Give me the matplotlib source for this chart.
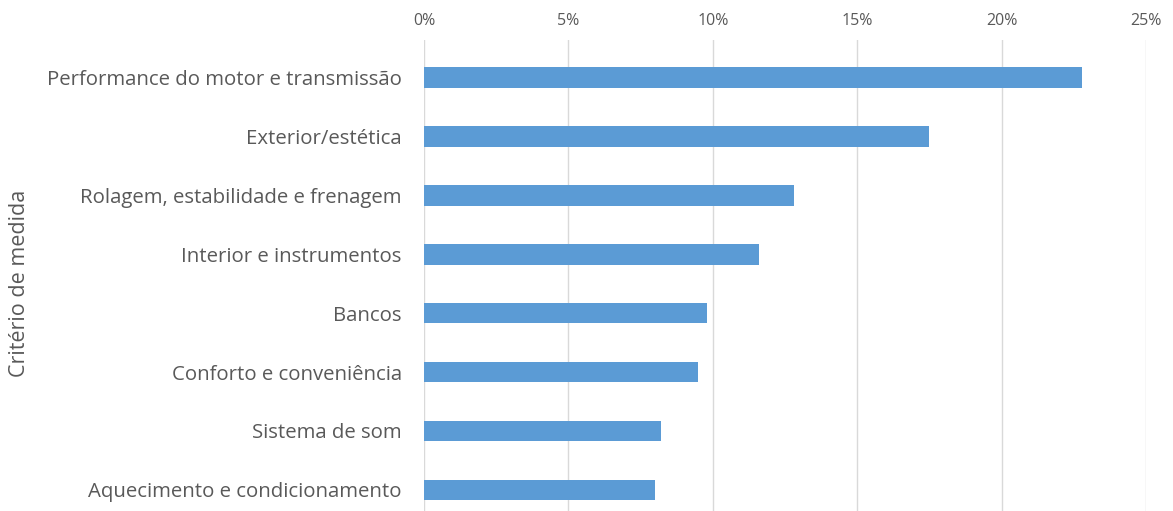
import matplotlib.pyplot as plt
from matplotlib.ticker import PercentFormatter

criterios = ["Performance do motor e transmissão", "Exterior/estética",
             "Rolagem, estabilidade e frenagem", "Interior e instrumentos",
             "Bancos", "Conforto e conveniência", "Sistema de som",
             "Aquecimento e condicionamento"]
valores = [22.8, 17.5, 12.8, 11.6, 9.8, 9.5, 8.2, 8.0]
x_ticks = [0, 5, 10, 15, 20, 25]

plt.rcParams['font.family'] = ['Open Sans', 'DejaVu Sans']
text_color = '#595959'

fig = plt.figure(figsize=(11.73, 5.11), dpi=100)
ax = fig.add_axes([424 / 1173, 0, 722 / 1173, 1 - 40 / 511])

pos = list(range(len(criterios)))
ax.barh(pos, valores, height=0.35, color='#5B9BD5', zorder=3)
ax.set_ylim(len(criterios) - 0.64, -0.64)
ax.set_xlim(0, 25)
ax.set_xticks(x_ticks)
ax.xaxis.set_major_formatter(PercentFormatter(decimals=0))
ax.xaxis.tick_top()
ax.tick_params(axis='x', length=0, pad=8, labelsize=11.5, labelcolor=text_color)
ax.set_yticks(pos)
ax.set_yticklabels(criterios)
ax.tick_params(axis='y', length=0, pad=16, labelsize=14.7, labelcolor=text_color)
ax.grid(axis='x', color='#D9D9D9', linewidth=1, zorder=0)
for s in ax.spines.values():
    s.set_visible(False)

fig.text(20 / 1173, 1 - 283 / 511, 'Critério de medida', rotation=90,
         ha='center', va='center', fontsize=15.5, color=text_color)

fig.savefig('out.png', dpi=100)
